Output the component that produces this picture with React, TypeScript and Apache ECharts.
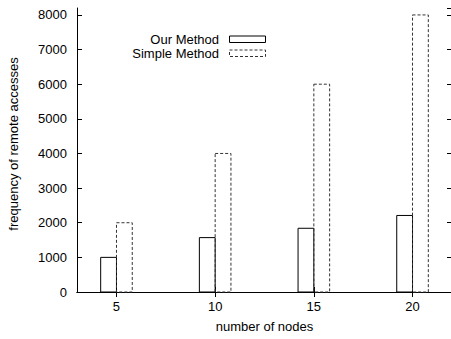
import React, { useEffect, useRef } from "react";
import * as echarts from "echarts";

const nodeCounts = [5, 10, 15, 20];
const ourMethod = [1000, 1570, 1840, 2210];
const simpleMethod = [2000, 4000, 6000, 8000];
const seriesNames = ["Our Method", "Simple Method"];
const xTicks = [5, 10, 15, 20];

const FONT = "'Liberation Sans', Arial, Helvetica, sans-serif";
const BAR_W = 0.8;

export default function App() {
  const ref = useRef<HTMLDivElement>(null);
  useEffect(() => {
    if (!ref.current) return;
    const chart = echarts.init(ref.current, null, { renderer: "svg" });
    const mkRender = (lo: number, hi: number, dashed: boolean) =>
      (params: any, api: any) => {
        const x = api.value(0);
        const y = api.value(1);
        const p0 = api.coord([x + lo, 0]);
        const p1 = api.coord([x + hi, y]);
        return {
          type: "rect",
          shape: { x: p0[0], y: p1[1], width: p1[0] - p0[0], height: p0[1] - p1[1] },
          style: {
            fill: "none",
            stroke: dashed ? "#333" : "#000",
            lineWidth: 1,
            lineDash: dashed ? [3, 2] : null,
          },
        };
      };
    const axisCommon = {
      axisLine: { show: true, lineStyle: { color: "#000", width: 1 } },
      splitLine: { show: false },
    };
    chart.setOption({
      animation: false,
      backgroundColor: "#fff",
      textStyle: { fontFamily: FONT },
      grid: { left: 77, top: 8, width: 375, height: 284, containLabel: false, outerBoundsMode: "none" },
      xAxis: [
        {
          ...axisCommon,
          type: "value",
          min: 3,
          max: 22,
          position: "bottom",
          name: "number of nodes",
          nameLocation: "middle",
          nameGap: 28,
          nameTextStyle: { fontSize: 13, color: "#000", fontFamily: FONT },
          axisTick: { show: true, inside: true, length: 5, customValues: xTicks, lineStyle: { color: "#000" } },
          axisLabel: { customValues: xTicks, fontSize: 13, color: "#000", margin: 8, fontFamily: FONT, formatter: (v: number) => String(v) },
        },
        {
          ...axisCommon,
          type: "value",
          min: 3,
          max: 22,
          position: "top",
          axisTick: { show: true, inside: true, length: 5, customValues: xTicks, lineStyle: { color: "#000" } },
          axisLabel: { show: false },
        },
      ],
      yAxis: [
        {
          ...axisCommon,
          type: "value",
          min: 0,
          max: 8200,
          interval: 1000,
          position: "left",
          name: "frequency of remote accesses",
          nameLocation: "middle",
          nameGap: 57,
          nameTextStyle: { fontSize: 13, color: "#000", fontFamily: FONT, padding: [0, 0, 0, 12] },
          axisTick: { show: true, inside: true, length: 5, lineStyle: { color: "#000" } },
          axisLabel: { fontSize: 13, color: "#000", margin: 10, showMaxLabel: false, fontFamily: FONT, formatter: (v: number) => String(v) },
        },
        {
          ...axisCommon,
          type: "value",
          min: 0,
          max: 8200,
          interval: 1000,
          position: "right",
          axisTick: { show: true, inside: true, length: 5, lineStyle: { color: "#000" } },
          axisLabel: { show: false },
        },
      ],
      series: [
        {
          name: seriesNames[0],
          type: "custom",
          xAxisIndex: 0,
          yAxisIndex: 0,
          renderItem: mkRender(-BAR_W, 0, false),
          data: nodeCounts.map((n, i) => [n, ourMethod[i]]),
        },
        {
          name: seriesNames[1],
          type: "custom",
          xAxisIndex: 0,
          yAxisIndex: 0,
          renderItem: mkRender(0, BAR_W, true),
          data: nodeCounts.map((n, i) => [n, simpleMethod[i]]),
        },
      ],
      graphic: [
        {
          type: "text",
          x: 219,
          y: 39.5,
          style: { text: seriesNames[0], align: "right", verticalAlign: "middle", fontSize: 13, fill: "#000", fontFamily: FONT },
        },
        {
          type: "rect",
          shape: { x: 229.5, y: 36, width: 36, height: 6.5 },
          style: { fill: "none", stroke: "#000", lineWidth: 1 },
        },
        {
          type: "text",
          x: 219,
          y: 53.5,
          style: { text: seriesNames[1], align: "right", verticalAlign: "middle", fontSize: 13, fill: "#000", fontFamily: FONT },
        },
        {
          type: "rect",
          shape: { x: 229.5, y: 50, width: 36, height: 6.5 },
          style: { fill: "none", stroke: "#333", lineWidth: 1, lineDash: [3, 2] },
        },
      ],
    });
    return () => chart.dispose();
  }, []);
  return (
    <div
      ref={ref}
      style={{ position: "fixed", left: 0, top: 0, width: 451, height: 339, background: "#fff" }}
    />
  );
}
